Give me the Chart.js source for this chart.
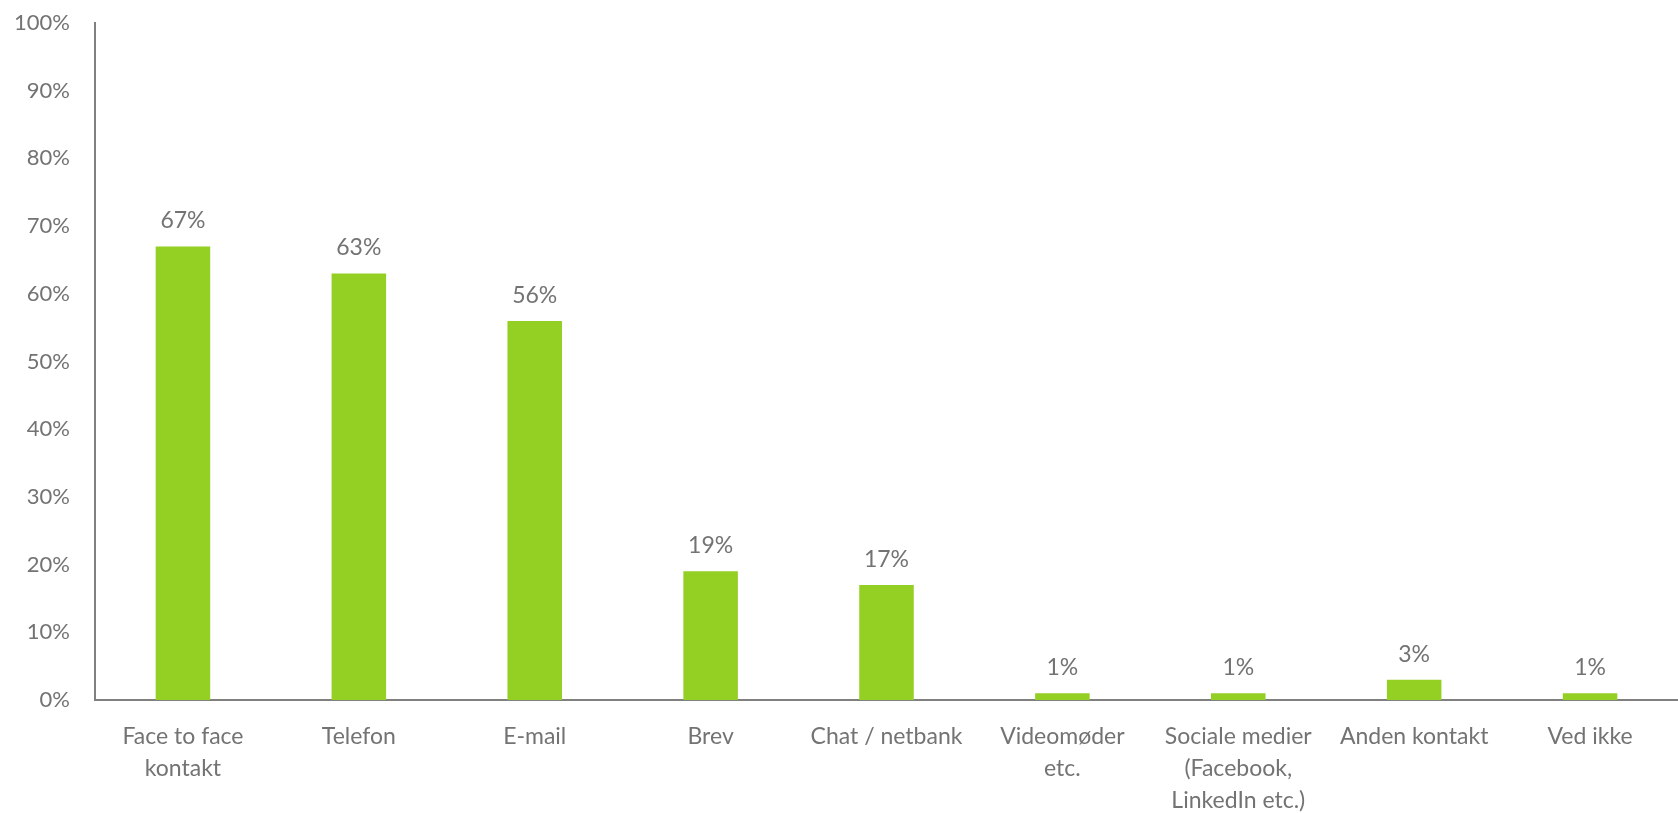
<!DOCTYPE html>
<html>
<head>
<meta charset="utf-8">
<script src="https://cdn.jsdelivr.net/npm/chart.js@4"></script>
<style>
html,body{margin:0;padding:0;background:#fff;}
#wrap{width:1678px;height:813px;position:relative;}
</style>
</head>
<body>
<div id="wrap"><canvas id="c" width="1678" height="813"></canvas></div>
<script>
const categories = [
  ["Face to face", "kontakt"],
  "Telefon",
  "E-mail",
  "Brev",
  "Chat / netbank",
  ["Videomøder", "etc."],
  ["Sociale medier", "(Facebook,", "LinkedIn etc.)"],
  "Anden kontakt",
  "Ved ikke"
];
const values = [67, 63, 56, 19, 17, 1, 1, 3, 1];
const yTicks = [0,10,20,30,40,50,60,70,80,90,100];

const FONT = "Lato, 'Open Sans', sans-serif";
const TXT = "#737373";

const labelPlugin = {
  id: 'valLabels',
  afterDatasetsDraw(chart) {
    const ctx = chart.ctx;
    const meta = chart.getDatasetMeta(0);
    ctx.save();
    ctx.font = "23px " + FONT;
    ctx.fillStyle = TXT;
    ctx.textAlign = 'center';
    ctx.textBaseline = 'bottom';
    meta.data.forEach((el, i) => {
      ctx.fillText(values[i] + '%', el.x, el.y - 14);
    });
    ctx.restore();
  }
};

new Chart(document.getElementById('c'), {
  type: 'bar',
  data: {
    labels: categories,
    datasets: [{
      data: values,
      backgroundColor: '#94cf24',
      categoryPercentage: 1,
      barPercentage: 0.31
    }]
  },
  options: {
    responsive: false,
    animation: false,
    layout: { padding: { top: 23, right: 0, left: 0, bottom: 0 } },
    plugins: { legend: { display: false }, tooltip: { enabled: false } },
    scales: {
      x: {
        grid: { display: false, drawTicks: false },
        border: { display: true, color: '#808080', width: 2 },
        ticks: { color: TXT, font: { family: FONT, size: 23, lineHeight: 1.39 }, padding: 21, maxRotation: 0, autoSkip: false },
        afterFit(s) { s.height = 113; s.paddingLeft = 0; s.paddingRight = 0; }
      },
      y: {
        min: 0, max: 100,
        afterBuildTicks(s) { s.ticks = yTicks.map(v => ({ value: v })); },
        grid: { display: false, drawTicks: false },
        border: { display: true, color: '#808080', width: 2 },
        ticks: { color: TXT, font: { family: FONT, size: 22 }, padding: 25, callback: v => v + '%' },
        afterFit(s) { s.width = 95; s.paddingTop = 0; s.paddingBottom = 0; }
      }
    }
  },
  plugins: [labelPlugin]
});
</script>
</body>
</html>
